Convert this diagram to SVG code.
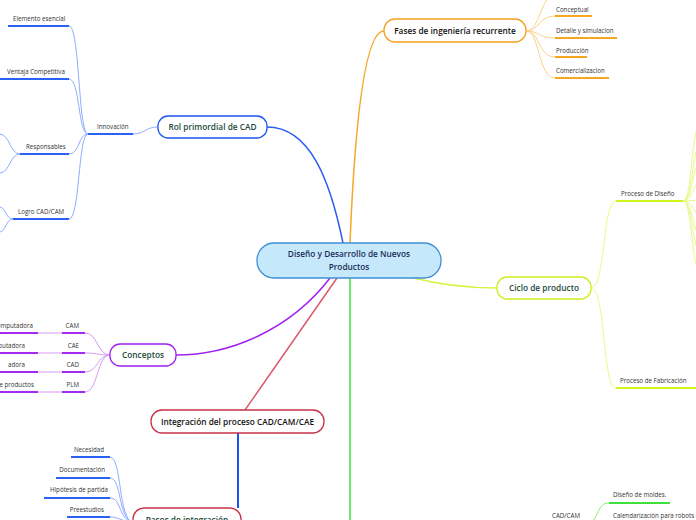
<svg xmlns="http://www.w3.org/2000/svg" width="696" height="520" viewBox="0 0 696 520">
<style>
.bg{fill:#fff}
.node rect{stroke-width:1.3}
.t{font-family:"Open Sans",sans-serif;font-weight:600;font-size:8.3px}
.lf{font-family:"Open Sans",sans-serif;font-size:6.2px;fill:#333}
.c{fill:none}
.u{stroke-width:2;fill:none}
</style>
<rect class="bg" width="696" height="520"/>
<g id="connectors">
  <path class="c" d="M343,243 C330,180 310,127 267,127" stroke="#2a5cf0" stroke-width="1.5"/>
  <path class="c" d="M350,243 C355,120 365,31 384,31" stroke="#f5a623" stroke-width="1.5"/>
  <path class="c" d="M330,278 C290,330 230,355 176,355" stroke="#a321f0" stroke-width="1.5"/>
  <path class="c" d="M337,278 L245,410" stroke="#d95a6c" stroke-width="1.5"/>
  <path class="c" d="M410,277 C440,285 470,288 497,288" stroke="#d4f53c" stroke-width="1.5"/>
  <path class="c" d="M350,278 L350,520" stroke="#3ee03a" stroke-width="1.5"/>
  <path class="c" d="M238,433 L238,508" stroke="#1a4ff0" stroke-width="2"/>
  <g stroke="#8fadff" stroke-width="1" fill="none">
    <path d="M158,127 C145,127 145,134 133,134"/>
    <path d="M88,134 C78,134 80,26 69,26"/>
    <path d="M88,134 C78,134 80,79 69,79"/>
    <path d="M88,134 C78,134 80,154 69,154"/>
    <path d="M88,134 C78,134 80,219 69,219"/>
    <path d="M20,154 C10,154 10,135 0,134"/>
    <path d="M20,154 C10,154 10,172 0,173"/>
    <path d="M13,219 C6,219 6,208 0,207"/>
    <path d="M13,219 C6,219 6,231 0,232"/>
  </g>
  <g stroke="#2a62f5" class="u">
    <path d="M88,134 H133"/>
    <path d="M8,26 H69"/>
    <path d="M0,79 H69"/>
    <path d="M20,154 H69"/>
    <path d="M13,219 H69"/>
  </g>
  <g stroke="#d59af5" stroke-width="1" fill="none">
    <path d="M110,355 C97,355 98,333 85,333"/>
    <path d="M110,355 C97,355 98,353 85,353"/>
    <path d="M110,355 C97,355 98,372 85,372"/>
    <path d="M110,355 C97,355 98,392 85,392"/>
    <path d="M38,333 H62"/>
    <path d="M38,353 H62"/>
    <path d="M38,372 H62"/>
    <path d="M38,392 H62"/>
  </g>
  <g stroke="#a32af0" class="u">
    <path d="M62,333 H85"/><path d="M0,333 H38"/>
    <path d="M62,353 H85"/><path d="M0,353 H38"/>
    <path d="M62,372 H85"/><path d="M0,372 H38"/>
    <path d="M62,392 H85"/><path d="M0,392 H38"/>
  </g>
  <g stroke="#8fadff" stroke-width="1" fill="none">
    <path d="M110,457 C122,457 118,520 133,522"/>
    <path d="M110,478 C122,478 118,520 133,522"/>
    <path d="M110,498 C122,498 118,520 133,522"/>
    <path d="M110,517 C120,517 122,522 133,522"/>
  </g>
  <g stroke="#2a62f5" class="u">
    <path d="M71,457 H110"/>
    <path d="M56,478 H110"/>
    <path d="M44,498 H110"/>
    <path d="M67,517 H110"/>
  </g>
  <g stroke="#fcd08a" stroke-width="1" fill="none">
    <path d="M526,31 C540,31 538,16 555,16"/>
    <path d="M526,31 C540,31 538,38 555,38"/>
    <path d="M526,31 C540,31 538,57 555,57"/>
    <path d="M526,31 C540,31 538,78 555,78"/>
    <path d="M526,31 C538,31 540,5 550,-4"/>
  </g>
  <g stroke="#f5a623" class="u">
    <path d="M555,16 H592"/>
    <path d="M555,38 H617"/>
    <path d="M555,57 H587"/>
    <path d="M555,78 H609"/>
  </g>
  <g stroke="#e6fa8a" stroke-width="1" fill="none">
    <path d="M591,288 C606,288 602,201 616,201"/>
    <path d="M591,288 C606,288 602,388 616,388"/>
    <path d="M683,201 C692,201 690,140 700,120"/>
    <path d="M683,201 C692,201 692,155 700,140"/>
    <path d="M683,201 C692,201 692,170 700,160"/>
    <path d="M683,201 C692,201 693,185 700,180"/>
    <path d="M683,201 C692,201 695,200 700,200"/>
    <path d="M683,201 C692,201 693,212 700,216"/>
    <path d="M683,201 C692,201 692,228 700,238"/>
    <path d="M683,201 C692,201 691,240 700,256"/>
    <path d="M683,201 C692,201 690,255 700,276"/>
  </g>
  <g stroke="#ccf51c" class="u">
    <path d="M616,201 H683"/>
    <path d="M616,388 H696"/>
  </g>
  <path d="M593,521 C600,510 600,503 609,503" stroke="#8ff07a" stroke-width="1" fill="none"/>
  <path d="M609,503 H670" stroke="#3ee03a" class="u"/>
</g>
<g id="center" class="node">
  <rect x="257" y="243" width="184" height="35" rx="17" fill="#c6e8fb" stroke="#3f8fd4"/>
  <text class="t" x="349" y="257" text-anchor="middle" fill="#1b2c5a" font-size="9.2">Diseño y Desarrollo de Nuevos</text>
  <text class="t" x="349" y="270" text-anchor="middle" fill="#1b2c5a" font-size="9.2">Productos</text>
</g>
<g id="rol" class="node">
  <rect x="158" y="116" width="109" height="22" rx="10" fill="#fff" stroke="#1f55f0"/>
  <text class="t" x="212.5" y="130" text-anchor="middle" fill="#1d4a3a">Rol primordial de CAD</text>
</g>
<g id="innovacion"><text class="lf" x="97" y="129">Innovación</text></g>
<g id="elemento"><text class="lf" x="13" y="21">Elemento esencial</text></g>
<g id="ventaja"><text class="lf" x="7" y="74">Ventaja Competitiva</text></g>
<g id="responsables"><text class="lf" x="26" y="149">Responsables</text></g>
<g id="logro"><text class="lf" x="18" y="214">Logro CAD/CAM</text></g>
<g id="conceptos" class="node">
  <rect x="110" y="344" width="66" height="22" rx="10" fill="#fff" stroke="#a020f0"/>
  <text class="t" x="143" y="358" text-anchor="middle" fill="#1d4a3a">Conceptos</text>
</g>
<g id="cam"><text class="lf" x="79" y="328" text-anchor="end">CAM</text><text class="lf" x="33" y="328" text-anchor="end">omputadora</text></g>
<g id="cae"><text class="lf" x="79" y="348" text-anchor="end">CAE</text><text class="lf" x="25" y="348" text-anchor="end">putadora</text></g>
<g id="cad"><text class="lf" x="79" y="367" text-anchor="end">CAD</text><text class="lf" x="25" y="367" text-anchor="end">adora</text></g>
<g id="plm"><text class="lf" x="79" y="387" text-anchor="end">PLM</text><text class="lf" x="34" y="387" text-anchor="end">de productos</text></g>
<g id="integracion" class="node">
  <rect x="151" y="410" width="173" height="23" rx="11" fill="#fff" stroke="#c8304a"/>
  <text class="t" x="237.5" y="425" text-anchor="middle" fill="#111">Integración del proceso CAD/CAM/CAE</text>
</g>
<g id="pasos" class="node">
  <rect x="133" y="508" width="108" height="24" rx="11" fill="#fff" stroke="#c8304a"/>
  <text class="t" x="187" y="523" text-anchor="middle" fill="#1d4a3a">Pasos de integración</text>
</g>
<g id="necesidad"><text class="lf" x="104" y="452" text-anchor="end">Necesidad</text></g>
<g id="documentacion"><text class="lf" x="105" y="472" text-anchor="end">Documentación</text></g>
<g id="hipotesis"><text class="lf" x="108" y="492" text-anchor="end">Hipótesis de partida</text></g>
<g id="preestudios"><text class="lf" x="104" y="512" text-anchor="end">Preestudios</text></g>
<g id="fases" class="node">
  <rect x="384" y="19" width="142" height="23" rx="11" fill="#fff" stroke="#f5a020"/>
  <text class="t" x="455" y="34" text-anchor="middle" fill="#111">Fases de ingeniería recurrente</text>
</g>
<g id="conceptual"><text class="lf" x="556" y="12">Conceptual</text></g>
<g id="detalle"><text class="lf" x="556" y="33">Detalle y simulacion</text></g>
<g id="produccion"><text class="lf" x="556" y="53">Producción</text></g>
<g id="comercializacion"><text class="lf" x="556" y="73">Comercializacion</text></g>
<g id="ciclo" class="node">
  <rect x="497" y="277" width="94" height="22" rx="10" fill="#fff" stroke="#ccf020"/>
  <text class="t" x="544" y="291" text-anchor="middle" fill="#1d4a3a">Ciclo de producto</text>
</g>
<g id="diseno"><text class="lf" x="621" y="196">Proceso de Diseño</text></g>
<g id="fabricacion"><text class="lf" x="620" y="383">Proceso de Fabricación</text></g>
<g id="moldes"><text class="lf" x="613" y="497">Diseño de moldes.</text></g>
<g id="calendarizacion"><text class="lf" x="613" y="518">Calendarización para robots i</text></g>
<g id="cadcam"><text class="lf" x="552" y="518">CAD/CAM</text></g>
</svg>
